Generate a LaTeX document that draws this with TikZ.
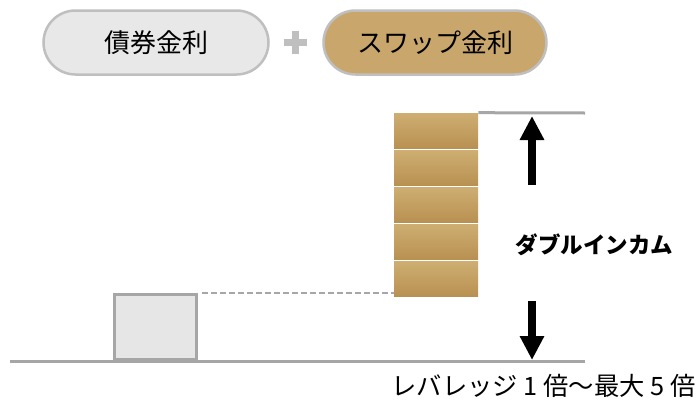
\documentclass[tikz,border=0pt]{standalone}
\usepackage{fontspec}
\setmainfont{Noto Sans CJK JP}
\usepackage{tikz}
\usetikzlibrary{arrows.meta,shapes.misc}
\usepackage{xcolor}
\definecolor{pillgrey}{HTML}{E8E8E8}
\definecolor{boxgrey}{HTML}{E6E6E6}
\definecolor{edgegrey}{HTML}{BFBFBF}
\definecolor{linegrey}{HTML}{A6A6A6}
\definecolor{pillgold}{HTML}{C9A76C}
\definecolor{goldtop}{HTML}{CEAE72}
\definecolor{goldmid}{HTML}{D4B67C}
\definecolor{goldbot}{HTML}{B89152}

\begin{document}
\begin{tikzpicture}[x=1pt,y=-1pt,>={Triangle[width=23pt,length=24pt]},semithick]
    \tikzstyle{pill}=[rounded rectangle,draw=edgegrey,line width=2.5pt,minimum height=64pt,inner sep=0pt,font=\fontsize{26}{30}\selectfont]
    \tikzstyle{block}=[rectangle,inner sep=0pt,minimum width=84pt,minimum height=35pt,top color=goldtop,middle color=goldmid,bottom color=goldbot]
    \tikzset{level/.style={draw=linegrey,line width=3pt}}
    \useasboundingbox (0,0) rectangle (700,399);
    % top: the two rates
    \node[pill,fill=pillgrey,minimum width=225pt] (bond) at (156,42.5) {債券金利};
    \node[pill,fill=pillgold,minimum width=223pt] (swap) at (435,42.5) {スワップ金利};
    \draw[edgegrey,line width=7pt] (283.5,42) -- (306.5,42) (295,30.5) -- (295,53.5);
    % stack of swap blocks
    \foreach \i in {1,...,5}
        \node[block] (b\i) at (436,{93.5+37*\i}) {};
    % plain bond box on the ground
    \node[rectangle,fill=boxgrey,draw=linegrey,line width=3pt,minimum width=82pt,minimum height=65pt] (base) at (155.5,327) {};
    \coordinate (topend) at (585,113);
    \coordinate (g0) at (10,361);
    \coordinate (g1) at (585,361);
    \draw[level] (b1.north east) -- (topend);
    \draw[level] (g0) -- (g1);
    \draw[linegrey,line width=2pt,dash pattern=on 6pt off 3pt] ([xshift=4pt]base.north east) -- (base.north east -| b5.west);
    % arrows
    \coordinate (upfoot) at (532,185);
    \coordinate (uptip) at (532,116);
    \coordinate (downfoot) at (532,301);
    \coordinate (downtip) at (532,360);
    \draw[->,line width=8pt] (upfoot) -- (uptip);
    \draw[->,line width=8pt] (downfoot) -- (downtip);
    \node[anchor=west,font=\fontsize{22.5}{26}\selectfont\bfseries] (income) at (512,245) {ダブルインカム};
    \node[anchor=east,font=\fontsize{25.3}{29}\selectfont] (lev) at (699,386) {レバレッジ 1 倍～最大 5 倍};
\end{tikzpicture}
\end{document}
